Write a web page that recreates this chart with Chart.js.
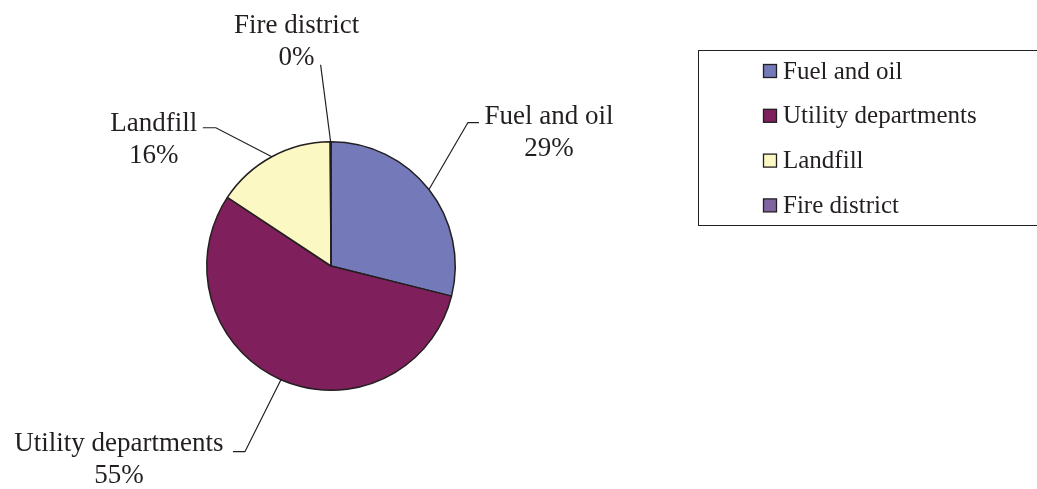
<!DOCTYPE html>
<html>
<head>
<meta charset="utf-8">
<script src="https://cdn.jsdelivr.net/npm/chart.js@4"></script>
<style>
  html, body { margin: 0; padding: 0; background: #fff; }
  #wrap { width: 1037px; height: 489px; position: relative; }
</style>
</head>
<body>
<div id="wrap"><canvas id="chart"></canvas></div>
<script>
const categories = ["Fuel and oil", "Utility departments", "Landfill", "Fire district"];
const shares = [28.9, 55.4, 15.6, 0.1];
const sliceColors = ["#7479b9", "#7f1f5c", "#fcf8c4", "#8064a2"];

const INK = "#231f20";
const SERIF = "'Liberation Serif', 'Times New Roman', serif";

// leader line layout per slice: elbow offset from arc edge, tick length,
// text block centre offset and first baseline offset from tick end
const leaders = [
  { dx: 39, dy: -67, tick: 11, tx: 70, ty: 1 },
  { dx: -36, dy: 72, tick: -12, tx: -114, ty: -1 },
  { dx: -56, dy: -29, tick: -13, tx: -49, ty: 3 },
  { dx: -10, dy: -77, tick: 0, tx: -24, ty: -32 }
];

const pieLabels = {
  id: "pieLabels",
  afterDatasetsDraw(chart) {
    const ctx = chart.ctx;
    const meta = chart.getDatasetMeta(0);
    const data = chart.data.datasets[0].data;
    const total = data.reduce((a, b) => a + b, 0);
    ctx.save();
    ctx.font = "27px " + SERIF;
    ctx.fillStyle = INK;
    ctx.strokeStyle = INK;
    ctx.lineWidth = 1.2;
    ctx.textAlign = "center";
    ctx.textBaseline = "alphabetic";
    meta.data.forEach((arc, i) => {
      const p = arc.getProps(["x", "y", "startAngle", "endAngle", "outerRadius"], true);
      const mid = (p.startAngle + p.endAngle) / 2;
      const ex = p.x + Math.cos(mid) * p.outerRadius;
      const ey = p.y + Math.sin(mid) * p.outerRadius;
      const l = leaders[i];
      const bx = ex + l.dx, by = ey + l.dy;
      const tx = bx + l.tick;
      ctx.beginPath();
      ctx.moveTo(ex, ey);
      ctx.lineTo(bx, by);
      ctx.lineTo(tx, by);
      ctx.stroke();
      const pct = Math.round((data[i] / total) * 100) + "%";
      ctx.fillText(chart.data.labels[i], tx + l.tx, by + l.ty);
      ctx.fillText(pct, tx + l.tx, by + l.ty + 32);
    });
    ctx.restore();
  }
};

const boxLegend = {
  id: "boxLegend",
  afterDraw(chart) {
    const ctx = chart.ctx;
    const colors = chart.data.datasets[0].backgroundColor;
    ctx.save();
    ctx.strokeStyle = INK;
    ctx.lineWidth = 1;
    ctx.strokeRect(698.5, 50.5, 400, 175);
    ctx.font = "25px " + SERIF;
    ctx.textBaseline = "middle";
    ctx.textAlign = "left";
    chart.data.labels.forEach((label, i) => {
      const cy = 71 + i * 44.8;
      ctx.fillStyle = colors[i];
      ctx.fillRect(763.5, cy - 6.5, 13, 13);
      ctx.strokeStyle = INK;
      ctx.lineWidth = 1.3;
      ctx.strokeRect(763.5, cy - 6.5, 13, 13);
      ctx.fillStyle = INK;
      ctx.fillText(label, 783, cy + 1);
    });
    ctx.restore();
  }
};

new Chart(document.getElementById("chart"), {
  type: "pie",
  data: {
    labels: categories,
    datasets: [{
      data: shares,
      backgroundColor: sliceColors,
      borderColor: INK,
      borderWidth: 1.5
    }]
  },
  options: {
    responsive: true,
    maintainAspectRatio: false,
    animation: false,
    layout: { padding: { left: 206, right: 581, top: 141, bottom: 98 } },
    plugins: {
      legend: { display: false },
      tooltip: { enabled: false }
    }
  },
  plugins: [pieLabels, boxLegend]
});
</script>
</body>
</html>
